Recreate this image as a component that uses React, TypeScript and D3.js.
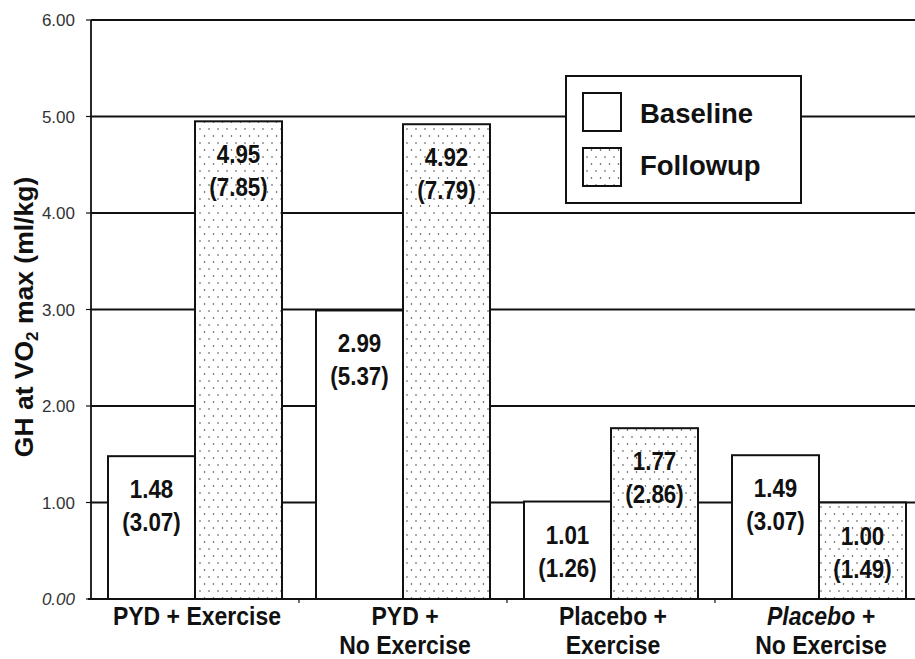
import React from "react";
import * as d3 from "d3";

const groupLabels: string[][] = [
  ["PYD + Exercise"],
  ["PYD +", "No Exercise"],
  ["Placebo +", "Exercise"],
  ["Placebo +", "No Exercise"],
];
const groupKeys = ["g1", "g2", "g3", "g4"];
const italicFirstLine = [false, false, false, true];
const seriesNames = ["Baseline", "Followup"];
const baselineMean = [1.48, 2.99, 1.01, 1.49];
const baselineSD = [3.07, 5.37, 1.26, 3.07];
const followupMean = [4.95, 4.92, 1.77, 1.0];
const followupSD = [7.85, 7.79, 2.86, 1.49];
const yTicks = [0, 1, 2, 3, 4, 5, 6];

const W = 915;
const H = 659;
const left = 91;
const right = 923;
const top = 20;
const bottom = 599;
const FONT = "'Liberation Sans', Arial, Helvetica, sans-serif";

function SText(props: {
  x: number;
  y: number;
  size: number;
  sx?: number;
  italic?: boolean;
  bold?: boolean;
  anchor?: string;
  fill?: string;
  children: React.ReactNode;
}) {
  const { x, y, size, sx = 1, italic, bold = true, anchor = "middle", fill = "#111" } = props;
  return (
    <g transform={`translate(${x},${y}) scale(${sx},1)`}>
      <text
        x={0}
        y={0}
        fontFamily={FONT}
        fontSize={size}
        fontWeight={bold ? "bold" : "normal"}
        fontStyle={italic ? "italic" : "normal"}
        textAnchor={anchor}
        fill={fill}
      >
        {props.children}
      </text>
    </g>
  );
}

export default function App() {
  const x0 = d3
    .scaleBand<string>()
    .domain(groupKeys)
    .range([left, right])
    .paddingInner(34 / 208)
    .paddingOuter(17 / 208);
  const x1 = d3.scaleBand<string>().domain(seriesNames).range([0, x0.bandwidth()]);
  const y = d3.scaleLinear().domain([0, 6]).range([bottom, top]);

  const bars: { key: string; series: string; x: number; w: number; v: number; sd: number }[] = [];
  groupKeys.forEach((g, i) => {
    bars.push({ key: g + "b", series: "Baseline", x: (x0(g) as number) + (x1("Baseline") as number), w: x1.bandwidth(), v: baselineMean[i], sd: baselineSD[i] });
    bars.push({ key: g + "f", series: "Followup", x: (x0(g) as number) + (x1("Followup") as number), w: x1.bandwidth(), v: followupMean[i], sd: followupSD[i] });
  });

  const boundaries = groupKeys.slice(1).map((g) => (x0(g) as number) - (x0.step() * (34 / 208)) / 2);

  return (
    <svg width={W} height={H} style={{ position: "absolute", left: 0, top: 0, background: "#fff" }}>
      <defs>
        <pattern id="dots" width={9} height={14} patternUnits="userSpaceOnUse">
          <rect width={9} height={14} fill="#fff" />
          <circle cx={2} cy={3} r={0.75} fill="#333" />
          <circle cx={6.5} cy={10} r={0.75} fill="#333" />
        </pattern>
      </defs>
      <rect x={0} y={0} width={W} height={H} fill="#fff" />

      {/* gridlines */}
      {yTicks.filter((t) => t > 0).map((t) => (
        <line key={"g" + t} x1={left} x2={W} y1={y(t)} y2={y(t)} stroke="#111" strokeWidth={1.8} />
      ))}

      {/* legend */}
      <rect x={566} y={76} width={235} height={127} fill="#fff" stroke="#111" strokeWidth={2} />
      {seriesNames.map((s, i) => (
        <g key={s}>
          <rect
            x={583}
            y={93 + i * 55}
            width={38}
            height={38}
            fill={s === "Baseline" ? "#fff" : "url(#dots)"}
            stroke="#111"
            strokeWidth={2}
          />
          <SText x={640} y={123 + i * 52} size={27.5} anchor="start">
            {s}
          </SText>
        </g>
      ))}

      {/* bars */}
      {bars.map((b) => (
        <rect
          key={b.key}
          x={b.x}
          y={y(b.v)}
          width={b.w}
          height={y(0) - y(b.v)}
          fill={b.series === "Baseline" ? "#fff" : "url(#dots)"}
          stroke="#111"
          strokeWidth={2}
        />
      ))}

      {/* bar labels */}
      {bars.map((b) => (
        <g key={b.key + "l"}>
          <SText x={b.x + b.w / 2} y={y(b.v) + 42} size={26} sx={0.86}>
            {b.v.toFixed(2)}
          </SText>
          <SText x={b.x + b.w / 2} y={y(b.v) + 75} size={26} sx={0.86}>
            {`(${b.sd.toFixed(2)})`}
          </SText>
        </g>
      ))}

      {/* axes */}
      <line x1={left} x2={left} y1={top} y2={bottom} stroke="#111" strokeWidth={1.8} />
      <line x1={left - 3} x2={W} y1={bottom} y2={bottom} stroke="#111" strokeWidth={2} />
      {yTicks.map((t) => (
        <g key={"t" + t}>
          <line x1={left - 5} x2={left} y1={y(t)} y2={y(t)} stroke="#111" strokeWidth={1.2} />
          <SText x={75} y={y(t) + 6} size={17} bold={false} anchor="end" italic={t === 0} fill="#333">
            {t.toFixed(2)}
          </SText>
        </g>
      ))}
      {boundaries.map((bx, i) => (
        <line key={"xb" + i} x1={bx} x2={bx} y1={bottom} y2={bottom + 4} stroke="#111" strokeWidth={1.2} />
      ))}

      {/* x labels */}
      {groupKeys.map((g, i) => (
        <g key={g + "x"}>
          {groupLabels[i].map((line, j) => (
            <SText
              key={j}
              x={(x0(g) as number) + x0.bandwidth() / 2 + 2}
              y={625 + j * 29}
              size={25}
              sx={0.92}
              italic={j === 0 && italicFirstLine[i]}
            >
              {line}
            </SText>
          ))}
        </g>
      ))}

      {/* y title */}
      <text
        transform={`translate(33,317) rotate(-90)`}
        fontFamily={FONT}
        fontSize={26.5}
        fontWeight="bold"
        textAnchor="middle"
        fill="#111"
      >
        GH at VO<tspan fontSize={17} dy={5}>2</tspan>
        <tspan dy={-5}> max (ml/kg)</tspan>
      </text>
    </svg>
  );
}
